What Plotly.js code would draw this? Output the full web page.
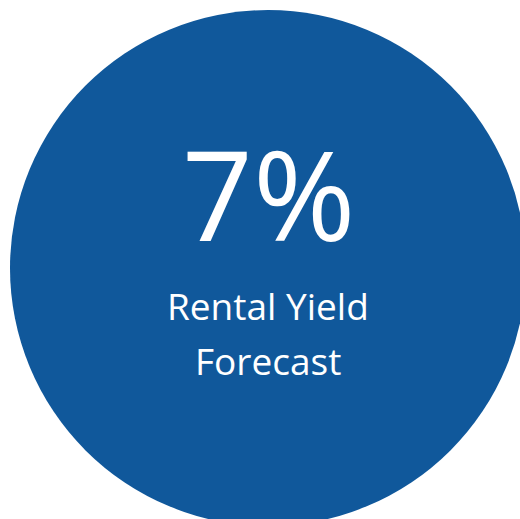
<!DOCTYPE html>
<html>
<head>
<meta charset="utf-8">
<script src="https://cdn.plot.ly/plotly-3.0.1.min.js"></script>
<style>
html, body { margin: 0; padding: 0; overflow: hidden; background: #ffffff; }
#chart { width: 536px; height: 536px; }
</style>
</head>
<body>
<div id="chart"></div>
<script>
// Data
const sliceLabels = ["Rental Yield Forecast"];
const sliceValues = [100];
const headlineValue = ["7%"];
const captionLines = ["Rental Yield", "Forecast"];

const trace = {
  type: "pie",
  labels: sliceLabels,
  values: sliceValues,
  sort: false,
  textinfo: "none",
  hoverinfo: "none",
  marker: { colors: ["#10589b"], line: { width: 0 } },
  showlegend: false,
  domain: { x: [0, 1], y: [0, 1] }
};

const fam = "'Open Sans', Lato, sans-serif";
const captionY = [0.4274, 0.3198];

const layout = {
  width: 536,
  height: 536,
  margin: { l: 10, r: 10, t: 10, b: 10 },
  paper_bgcolor: "#ffffff",
  plot_bgcolor: "#ffffff",
  showlegend: false,
  annotations: [
    {
      text: headlineValue[0],
      x: 0.5, y: 0.6468, xref: "paper", yref: "paper",
      xanchor: "center", yanchor: "middle",
      showarrow: false,
      font: { family: fam, size: 124, color: "#ffffff", weight: 400 }
    }
  ].concat(captionLines.map((t, i) => ({
      text: t,
      x: 0.5, y: captionY[i], xref: "paper", yref: "paper",
      xanchor: "center", yanchor: "middle",
      showarrow: false,
      font: { family: fam, size: 37, color: "#ffffff", weight: 400 }
  })))
};

Plotly.newPlot("chart", [trace], layout, { staticPlot: true, displayModeBar: false });
</script>
</body>
</html>
